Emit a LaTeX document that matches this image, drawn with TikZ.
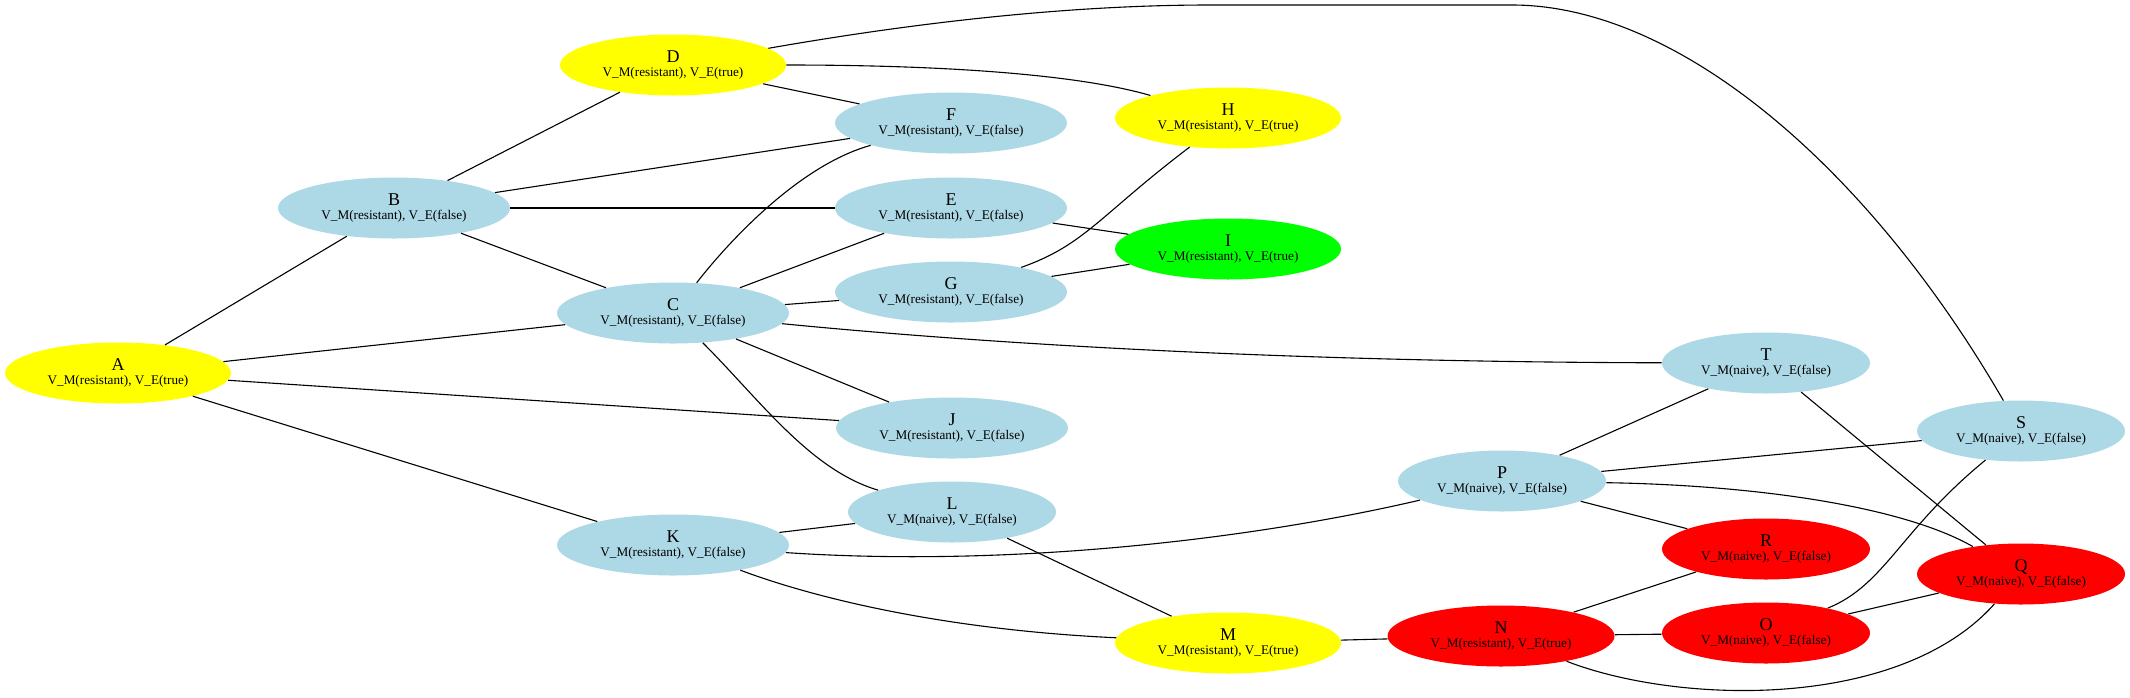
\documentclass[tikz,border=0pt]{standalone}
\usepackage{fontspec}
\setmainfont{Liberation Serif}
\usetikzlibrary{shapes.geometric}
\definecolor{lblue}{HTML}{ADD8E6}
\definecolor{gyellow}{HTML}{FFFF00}
\definecolor{gred}{HTML}{FF0000}
\definecolor{ggreen}{HTML}{00FF00}
\newcommand{\nm}[1]{{\fontsize{9}{9}\selectfont #1}}
\tikzset{
  st/.style={ellipse, inner sep=0pt, minimum height=30.5pt, align=center,
    font=\fontsize{6.6}{7}\selectfont, draw=none},
  resf/.style={st, fill=lblue, minimum width=116pt},
  rest/.style={st, fill=gyellow, minimum width=113pt},
  resg/.style={st, fill=ggreen, minimum width=113pt},
  resr/.style={st, fill=gred, minimum width=113.5pt},
  naf/.style={st, fill=lblue, minimum width=104pt},
  nar/.style={st, fill=gred, minimum width=104pt},
  edge/.style={draw=black, line width=0.55pt}
}
\begin{document}
\begin{tikzpicture}[x=0.5pt, y=-0.5pt]
\useasboundingbox (0,0) rectangle (2130,697);
\node[rest] (A) at (118,373) {\nm{A}\\V\_M(resistant), V\_E(true)};
\node[resf] (B) at (394,208) {\nm{B}\\V\_M(resistant), V\_E(false)};
\node[resf] (C) at (673,313) {\nm{C}\\V\_M(resistant), V\_E(false)};
\node[rest] (D) at (673,65) {\nm{D}\\V\_M(resistant), V\_E(true)};
\node[resf] (E) at (951,208) {\nm{E}\\V\_M(resistant), V\_E(false)};
\node[resf] (F) at (951,123) {\nm{F}\\V\_M(resistant), V\_E(false)};
\node[resf] (G) at (951,292) {\nm{G}\\V\_M(resistant), V\_E(false)};
\node[rest] (H) at (1228,118) {\nm{H}\\V\_M(resistant), V\_E(true)};
\node[resg] (I) at (1228,249) {\nm{I}\\V\_M(resistant), V\_E(true)};
\node[resf] (J) at (952,428) {\nm{J}\\V\_M(resistant), V\_E(false)};
\node[resf] (K) at (673,545) {\nm{K}\\V\_M(resistant), V\_E(false)};
\node[naf] (L) at (952,512) {\nm{L}\\V\_M(naive), V\_E(false)};
\node[rest] (M) at (1228,643) {\nm{M}\\V\_M(resistant), V\_E(true)};
\node[resr] (N) at (1501,636) {\nm{N}\\V\_M(resistant), V\_E(true)};
\node[nar] (O) at (1766,633) {\nm{O}\\V\_M(naive), V\_E(false)};
\node[naf] (P) at (1502,481) {\nm{P}\\V\_M(naive), V\_E(false)};
\node[nar] (Q) at (2021,574) {\nm{Q}\\V\_M(naive), V\_E(false)};
\node[nar] (R) at (1766,549) {\nm{R}\\V\_M(naive), V\_E(false)};
\node[naf] (S) at (2021,431) {\nm{S}\\V\_M(naive), V\_E(false)};
\node[naf] (T) at (1766,363) {\nm{T}\\V\_M(naive), V\_E(false)};

\path[edge] (A) -- (B);
\path[edge] (A) -- (C);
\path[edge] (A) -- (J);
\path[edge] (A) -- (K);
\path[edge] (B) -- (D);
\path[edge] (B) -- (F);
\path[edge] (B) -- (E);
\path[edge] (B) -- (C);
\path[edge] (C) .. controls (730,240) and (800,165) .. (F);
\path[edge] (C) -- (E);
\path[edge] (C) -- (G);
\path[edge] (C) .. controls (1000,345) and (1300,362) .. (T);
\path[edge] (C) -- (J);
\path[edge] (C) .. controls (760,400) and (810,470) .. (L);
\path[edge] (D) -- (F);
\path[edge] (D) .. controls (950,65) and (1080,75) .. (H);
\path[edge] (D) .. controls (930,20) and (1080,5) .. (1210,5) -- (1512,5) .. controls (1680,5) and (1870,170) .. (S);
\path[edge] (E) -- (I);
\path[edge] (G) .. controls (1085,245) and (1100,215) .. (H);
\path[edge] (G) -- (I);
\path[edge] (K) -- (L);
\path[edge] (K) .. controls (1000,567) and (1240,542) .. (P);
\path[edge] (K) .. controls (820,600) and (950,630) .. (M);
\path[edge] (L) -- (M);
\path[edge] (M) -- (N);
\path[edge] (N) -- (R);
\path[edge] (N) -- (O);
\path[edge] (N) .. controls (1680,705) and (1900,710) .. (Q);
\path[edge] (O) .. controls (1885,585) and (1900,530) .. (S);
\path[edge] (O) -- (Q);
\path[edge] (P) -- (T);
\path[edge] (P) -- (S);
\path[edge] (P) .. controls (1750,485) and (1900,505) .. (Q);
\path[edge] (P) -- (R);
\path[edge] (T) -- (Q);
\end{tikzpicture}
\end{document}
